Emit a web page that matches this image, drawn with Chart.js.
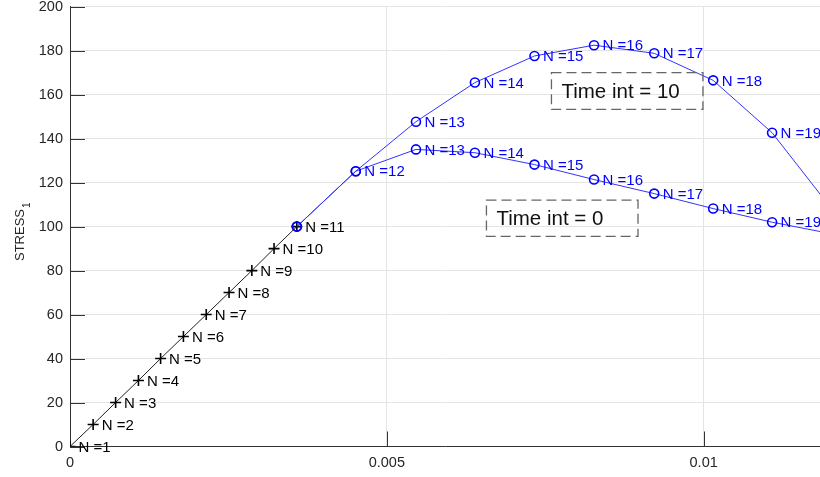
<!DOCTYPE html>
<html>
<head>
<meta charset="utf-8">
<title>Stress vs strain</title>
<script src="https://cdn.jsdelivr.net/npm/chart.js@4.4.1/dist/chart.umd.min.js"></script>
<style>
  html, body { margin: 0; padding: 0; background: #fff; }
</style>
</head>
<body>
<canvas id="stress-chart" width="820" height="477"></canvas>
<script>
// elastic part (same for both runs)
var nElastic = [1, 2, 3, 4, 5, 6, 7, 8, 9, 10, 11];
var strainElastic = [0, 0.000365, 0.00072, 0.00108, 0.00143, 0.00179, 0.00215, 0.00251, 0.00287, 0.00322, 0.00358];
var stressElastic = [0, 10, 20, 30, 40, 50, 60, 70, 80, 90, 100];

// plastic part, two time integration settings
var nPlastic = [11, 12, 13, 14, 15, 16, 17, 18, 19, 20];
var strainPlastic = [0.00358, 0.00451, 0.00546, 0.00639, 0.00733, 0.00827, 0.00922, 0.01015, 0.01108, 0.01201];
var stressTime10 = [100, 125.2, 147.7, 165.5, 177.6, 182.5, 178.8, 166.5, 142.7, 108.4];
var stressTime0 = [100, 125.2, 135.1, 133.6, 128.2, 121.4, 115.0, 108.2, 102.0, 96.8];

var xTicks = [0, 0.005, 0.01];
var yTicks = [0, 20, 40, 60, 80, 100, 120, 140, 160, 180, 200];

// text boxes, in data units
var notes = [
  { text: 'Time int = 10', x0: 0.007598, x1: 0.009989, y0: 170.0, y1: 153.3 },
  { text: 'Time int = 0', x0: 0.006572, x1: 0.008964, y0: 112.0, y1: 95.6 }
];

var FONT = '"Liberation Sans", Arial, Helvetica, sans-serif';
var BLUE = '#0000ff';

function pts(xs, ys) {
  return xs.map(function(x, i) { return { x: x, y: ys[i] }; });
}

var innerTicks = {
  id: 'innerTicks',
  beforeDatasetsDraw: function(chart) {
    var ctx = chart.ctx, a = chart.chartArea;
    var xs = chart.scales.x, ys = chart.scales.y;
    ctx.save();
    ctx.strokeStyle = '#333';
    ctx.lineWidth = 1;
    ctx.beginPath();
    yTicks.forEach(function(v) {
      var y = Math.round(ys.getPixelForValue(v)) + 0.5;
      ctx.moveTo(a.left, y);
      ctx.lineTo(a.left + 15, y);
    });
    xTicks.forEach(function(v) {
      var x = Math.round(xs.getPixelForValue(v)) + 0.5;
      ctx.moveTo(x, a.bottom);
      ctx.lineTo(x, a.bottom - 15);
    });
    ctx.stroke();
    ctx.restore();
  }
};

var pointNames = {
  id: 'pointNames',
  afterDatasetsDraw: function(chart) {
    var ctx = chart.ctx;
    ctx.save();
    ctx.font = '15px ' + FONT;
    ctx.textAlign = 'left';
    ctx.textBaseline = 'middle';
    chart.data.datasets.forEach(function(ds, i) {
      var meta = chart.getDatasetMeta(i);
      ctx.fillStyle = ds.labelColor;
      meta.data.forEach(function(el, j) {
        var n = ds.names[j];
        if (n < ds.firstLabel) return;
        ctx.fillText('N =' + n, el.x + 8.5, el.y + 1);
      });
    });
    ctx.restore();
  }
};

var textBoxes = {
  id: 'textBoxes',
  afterDraw: function(chart) {
    var ctx = chart.ctx, xs = chart.scales.x, ys = chart.scales.y;
    ctx.save();
    notes.forEach(function(b) {
      var l = xs.getPixelForValue(b.x0), r = xs.getPixelForValue(b.x1);
      var t = ys.getPixelForValue(b.y0), bt = ys.getPixelForValue(b.y1);
      ctx.setLineDash([10, 5]);
      ctx.strokeStyle = '#666';
      ctx.lineWidth = 1.3;
      ctx.strokeRect(l, t, r - l, bt - t);
      ctx.setLineDash([]);
      ctx.fillStyle = '#111';
      ctx.font = '20.5px ' + FONT;
      ctx.textBaseline = 'middle';
      ctx.fillText(b.text, l + 10, (t + bt) / 2 + 1);
    });
    ctx.restore();
  }
};

var yTitle = {
  id: 'yTitle',
  afterDraw: function(chart) {
    var ctx = chart.ctx;
    ctx.save();
    ctx.translate(23.5, 236);
    ctx.rotate(-Math.PI / 2);
    ctx.fillStyle = '#262626';
    ctx.font = '13px ' + FONT;
    ctx.textBaseline = 'alphabetic';
    var w = ctx.measureText('STRESS').width;
    ctx.fillText('STRESS', -25, 0);
    ctx.font = '10px ' + FONT;
    ctx.fillText('1', -25 + w + 1, 6);
    ctx.restore();
  }
};

var tickFont = { family: FONT, size: 14.5 };

new Chart(document.getElementById('stress-chart'), {
  type: 'line',
  data: {
    datasets: [
      {
        data: pts(strainPlastic, stressTime10),
        names: nPlastic, firstLabel: 12, labelColor: BLUE,
        borderColor: '#3333ff', borderWidth: 1,
        pointStyle: 'circle', pointRadius: 4.5, pointBorderWidth: 1.6,
        pointBorderColor: BLUE, pointBackgroundColor: 'rgba(0,0,0,0)',
        order: 1
      },
      {
        data: pts(strainPlastic, stressTime0),
        names: nPlastic, firstLabel: 13, labelColor: BLUE,
        borderColor: '#3333ff', borderWidth: 1,
        pointStyle: 'circle', pointRadius: 4.5, pointBorderWidth: 1.6,
        pointBorderColor: BLUE, pointBackgroundColor: 'rgba(0,0,0,0)',
        order: 2
      },
      {
        data: pts(strainElastic, stressElastic),
        names: nElastic, firstLabel: 1, labelColor: '#000',
        borderColor: '#222', borderWidth: 1,
        pointStyle: 'cross', pointRadius: 5.5, pointBorderWidth: 1.6,
        pointBorderColor: '#000',
        order: 3
      }
    ]
  },
  options: {
    responsive: false,
    animation: false,
    devicePixelRatio: 1,
    layout: { autoPadding: false, padding: { top: 6.7, left: 0, right: 0, bottom: 0 } },
    plugins: { legend: { display: false }, tooltip: { enabled: false } },
    scales: {
      x: {
        type: 'linear',
        min: 0,
        max: 0.011836,
        afterBuildTicks: function(s) { s.ticks = xTicks.map(function(v) { return { value: v }; }); },
        afterFit: function(s) { s.height = 30.5; s.paddingLeft = 0; s.paddingRight = 0; },
        grid: { color: '#e4e4e4', drawTicks: false },
        border: { color: '#333', width: 1 },
        ticks: {
          padding: 8, color: '#262626', font: tickFont,
          callback: function(v) { return String(v); }
        }
      },
      y: {
        min: 0,
        max: 200,
        afterBuildTicks: function(s) { s.ticks = yTicks.map(function(v) { return { value: v }; }); },
        afterFit: function(s) { s.width = 70; s.paddingTop = 0; s.paddingBottom = 0; },
        grid: { color: '#e4e4e4', drawTicks: false },
        border: { color: '#333', width: 1 },
        ticks: { padding: 7, color: '#262626', font: tickFont }
      }
    }
  },
  plugins: [innerTicks, pointNames, textBoxes, yTitle]
});
</script>
</body>
</html>
